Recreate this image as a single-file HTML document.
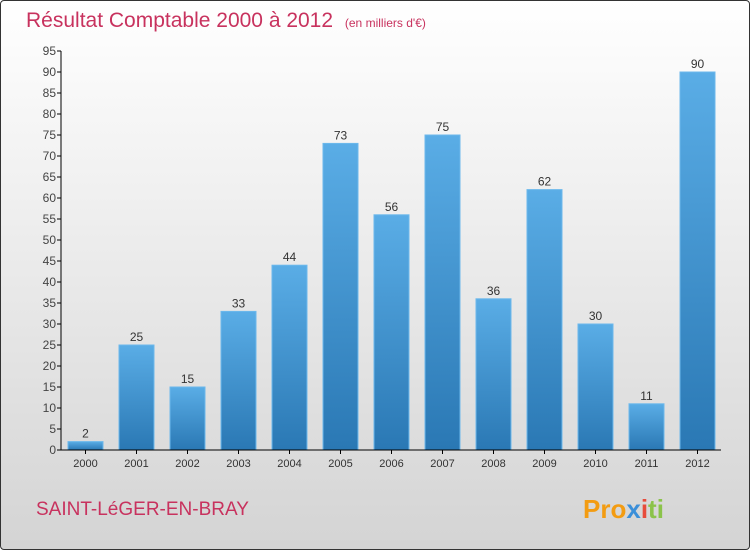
<!DOCTYPE html>
<html><head><meta charset="utf-8"><style>
body{margin:0;}
#c{width:748px;height:548px;border:1px solid #333;border-radius:4px;position:relative;overflow:hidden;background:linear-gradient(#ffffff,#d4d4d4);font-family:"Liberation Sans",sans-serif;}
</style></head><body>
<div id="c">
<svg width="748" height="548" id="svg">
<defs><linearGradient id="bg" x1="0" y1="0" x2="0" y2="1"><stop offset="0" stop-color="#5aade6"/><stop offset="1" stop-color="#2a78b4"/></linearGradient></defs>
<text x="25" y="26" font-size="21" fill="#c8325e">Résultat Comptable 2000 à 2012 <tspan font-size="12" dx="6">(en milliers d'€)</tspan></text>
<text x="35" y="514" font-size="19" fill="#c8325e">SAINT-LéGER-EN-BRAY</text>
<text x="582" y="517" font-size="26" font-weight="bold"><tspan fill="#f39c12">Pro</tspan><tspan fill="#3b8fd9">x</tspan><tspan fill="#e74c3c">i</tspan><tspan fill="#8bc34a">ti</tspan></text>
<g id="g"></g>
</svg>
</div>
<script>
const categories=["2000","2001","2002","2003","2004","2005","2006","2007","2008","2009","2010","2011","2012"];
const values=[2,25,15,33,44,73,56,75,36,62,30,11,90];
const yTicks=[0,5,10,15,20,25,30,35,40,45,50,55,60,65,70,75,80,85,90,95];
const NS="http://www.w3.org/2000/svg";
const g=document.getElementById('g');
const y=v=>449-v*(399/95);
const x=i=>84.5+i*51;
function mk(t,a){const e=document.createElementNS(NS,t);for(const k in a)e.setAttribute(k,a[k]);g.appendChild(e);return e;}
yTicks.forEach(v=>{
 const l=mk('line',{x1:56,x2:60,y1:y(v),y2:y(v),stroke:'#000'});
 
 
 const t=mk('text',{x:55,y:y(v)+4,'text-anchor':'end','font-size':12,fill:'#444'});
 t.textContent=v;
 
 
});
values.forEach((v,i)=>{
 const r=mk('rect',{x:x(i)-17.5,y:y(v),width:35,height:449-y(v),fill:'url(#bg)',stroke:'#6cb8ec','stroke-width':1});
 
 
 const t=mk('text',{x:x(i),y:y(v)-4,'text-anchor':'middle','font-size':12,fill:'#333'});
 t.textContent=v;
 
 
 const c=mk('text',{x:x(i),y:466,'text-anchor':'middle','font-size':11,fill:'#333'});
 c.textContent=categories[i];
 
 
 const tk=mk('line',{x1:x(i),x2:x(i),y1:449,y2:453,stroke:'#000'});
 
 
});
const ya=mk('line',{x1:60,x2:60,y1:y(95),y2:449,stroke:'#000'});


const xa=mk('line',{x1:60,x2:720,y1:449,y2:449,stroke:'#000'});


</script>
</body></html>
